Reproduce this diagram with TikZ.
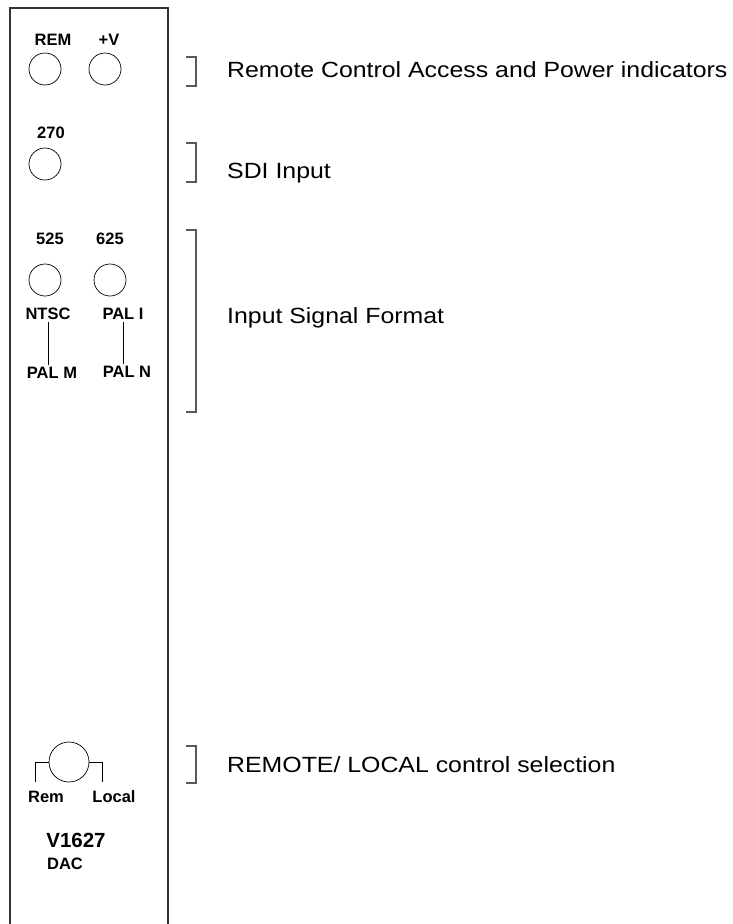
\documentclass[tikz,border=0pt]{standalone}
\usepackage{fontspec}
\setmainfont{Liberation Sans}
\newfontfamily\descfont[FakeStretch=1.13]{Liberation Sans}
\usetikzlibrary{positioning}

\begin{document}
\begin{tikzpicture}[x=1pt, y=-1pt,
  panel/.style={line width=1.5pt, draw=black!80},
  lamp/.style={draw, circle, line width=0.7pt, minimum size=32pt, inner sep=0pt},
  knob/.style={lamp, minimum size=40pt},
  lbl/.style={font=\fontsize{16.5}{18}\selectfont\bfseries, inner sep=2pt},
  big/.style={lbl, font=\fontsize{20.5}{22}\selectfont\bfseries},
  desc/.style={anchor=base west, inner sep=0pt, font=\descfont\fontsize{22}{24}\selectfont},
  brk/.style={line width=1.1pt, draw=black!65},
  lead/.style={line width=0.7pt}]
\useasboundingbox (0,0) rectangle (732,924);
% front panel
\draw[panel] (10,930) -- (10,8) -- (168,8) -- (168,930);
% indicators
\node[lbl]  (remt) at (53,40)  {REM};
\node[lbl]  (pvt)  at (109,40) {+V};
\node[lamp] (rem)  at (45,69)  {};
\node[lamp] (pv)   at (105,69) {};
\node[lbl]  (sdit) at (51,133) {270};
\node[lamp] (sdi)  at (45,164) {};
% input format
\node[lbl]  (fmta) at (50,239)  {525};
\node[lbl]  (fmtb) at (110,239) {625};
\node[lamp] (ledA) at (45,280)  {};
\node[lamp] (ledB) at (110,280) {};
\node[lbl]  (ntsc) at (48,314)  {NTSC};
\node[lbl]  (pali) at (123,314) {PAL I};
\node[lbl]  (palm) at (52,373)  {PAL M};
\node[lbl]  (paln) at (127,372) {PAL N};
\draw[lead] (ntsc.south -| 48,0) -- (palm.north -| 48,0);
\draw[lead] (pali.south -| 123,0) -- (paln.north -| 123,0);
% remote/local switch
\node[knob] (sw) at (69,762) {};
\coordinate (remend) at (35,782);
\coordinate (locend) at (102,782);
\draw[lead] (sw.west) -| (remend);
\draw[lead] (sw.east) -| (locend);
\node[lbl] (remsel) at (46,797)  {Rem};
\node[lbl] (locsel) at (114,797) {Local};
\node[big] (model)  at (76,840)  {V1627};
\node[lbl] (dac)    at (65,864)  {DAC};
% brackets
\draw[brk] (186,57)  -- (196,57)  -- (196,86)  -- (186,86);
\draw[brk] (186,143) -- (196,143) -- (196,182) -- (186,182);
\draw[brk] (186,230) -- (196,230) -- (196,412) -- (186,412);
\draw[brk] (186,746) -- (196,746) -- (196,783) -- (186,783);
% descriptions
\node[desc] (d1) at (227,77)  {Remote Control Access and Power indicators};
\node[desc] (d2) at (227,178) {SDI Input};
\node[desc] (d3) at (227,323) {Input Signal Format};
\node[desc] (d4) at (227,772) {REMOTE/ LOCAL control selection};
\end{tikzpicture}
\end{document}
